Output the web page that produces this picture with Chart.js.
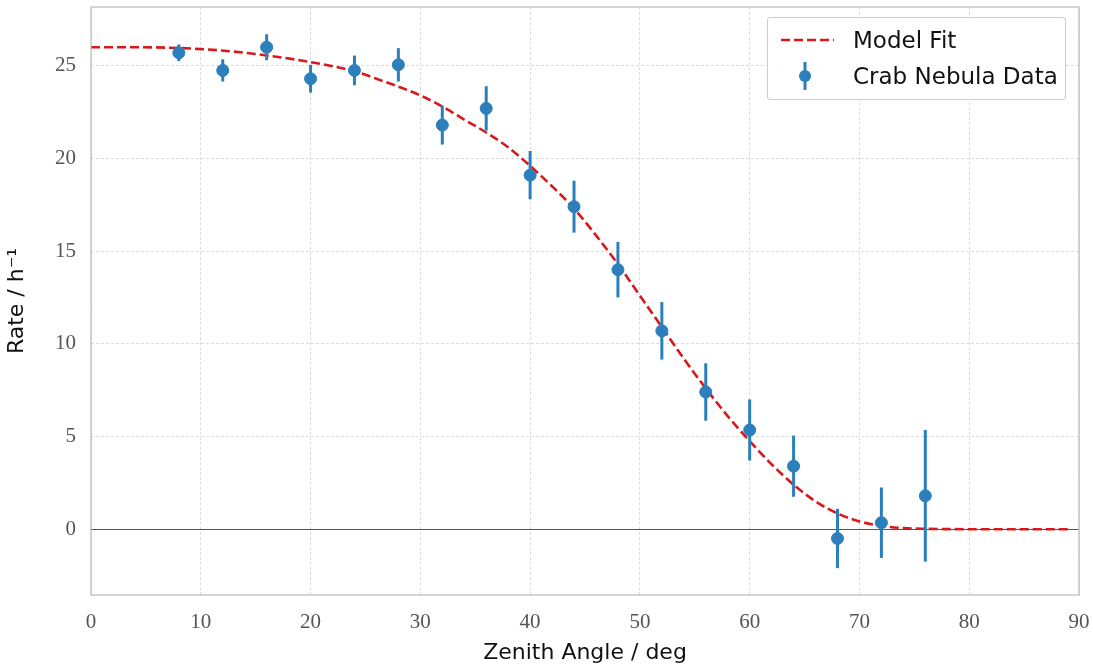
<!DOCTYPE html>
<html>
<head>
<meta charset="utf-8">
<script src="https://cdn.jsdelivr.net/npm/chart.js@4"></script>
<style>
  body { margin: 0; background: #fff; }
  #wrap { position: relative; width: 1093px; height: 670px; }
  #legend {
    position: absolute; left: 767px; top: 17px; width: 299px; height: 83px;
    border: 1px solid #ccc; border-radius: 3px; background: rgba(255,255,255,0.85);
    font-family: "DejaVu Sans", sans-serif; font-size: 23px; color: #111;
    box-sizing: border-box;
  }
  .row { position: absolute; left: 0; height: 36px; display: flex; align-items: center; }
  .row span { position: absolute; left: 85px; white-space: nowrap; }
</style>
</head>
<body>
<div id="wrap">
  <canvas id="chart" width="1093" height="670"></canvas>
  <div id="legend">
    <div class="row" style="top:4px"><svg width="80" height="36" style="position:absolute;left:10px"><line x1="3" y1="18" x2="56" y2="18" stroke="#d7191c" stroke-width="2.6" stroke-dasharray="9,4"/></svg><span>Model Fit</span></div>
    <div class="row" style="top:40px"><svg width="80" height="36" style="position:absolute;left:10px"><line x1="27" y1="4" x2="27" y2="32" stroke="#2b7fba" stroke-width="3"/><circle cx="27" cy="18" r="6" fill="#2b7fba"/></svg><span>Crab Nebula Data</span></div>
  </div>
</div>
<script>
const angles = [8, 12, 16, 20, 24, 28, 32, 36, 40, 44, 48, 52, 56, 60, 64, 68, 72, 76];
const rates = [25.7, 24.75, 26.0, 24.3, 24.75, 25.05, 21.8, 22.7, 19.1, 17.4, 14.0, 10.7, 7.4, 5.35, 3.4, -0.5, 0.35, 1.8];
const rateErrors = [0.45, 0.6, 0.7, 0.75, 0.8, 0.9, 1.05, 1.2, 1.3, 1.4, 1.5, 1.55, 1.55, 1.65, 1.65, 1.6, 1.9, 3.55];

const fitAngles = [0, 4, 10, 14, 20, 24, 26, 30, 32, 34, 36, 38, 40, 42, 44, 46, 48, 50, 52, 54, 56, 58, 60, 62, 64, 66, 68, 70, 72, 74, 76, 80, 89];
const fitRates = [26.0, 26.0, 25.9, 25.7, 25.2, 24.7, 24.3, 23.4, 22.8, 22.1, 21.4, 20.6, 19.6, 18.5, 17.3, 15.85, 14.3, 12.6, 10.9, 9.2, 7.6, 6.1, 4.75, 3.5, 2.4, 1.5, 0.85, 0.42, 0.18, 0.06, 0.02, 0.0, 0.0];

const xTicks = [0, 10, 20, 30, 40, 50, 60, 70, 80, 90];
const yTicks = [0, 5, 10, 15, 20, 25];

const blue = '#2b7fba';
const red = '#d7191c';

const plotDecor = {
  id: 'plotDecor',
  beforeDatasetsDraw(chart) {
    const { ctx, chartArea: a, scales: { y } } = chart;
    ctx.save();
    ctx.strokeStyle = '#555';
    ctx.lineWidth = 1.2;
    const y0 = Math.round(y.getPixelForValue(0)) + 0.5;
    ctx.beginPath();
    ctx.moveTo(a.left, y0);
    ctx.lineTo(a.right, y0);
    ctx.stroke();
    ctx.restore();
  },
  afterDatasetDraw(chart, args) {
    if (args.index !== 0) return;
    const { ctx, scales: { x, y } } = chart;
    ctx.save();
    ctx.strokeStyle = blue;
    ctx.lineWidth = 3;
    angles.forEach((ang, i) => {
      const px = x.getPixelForValue(ang);
      ctx.beginPath();
      ctx.moveTo(px, y.getPixelForValue(rates[i] - rateErrors[i]));
      ctx.lineTo(px, y.getPixelForValue(rates[i] + rateErrors[i]));
      ctx.stroke();
    });
    ctx.restore();
  },
  afterDraw(chart) {
    const { ctx, chartArea: a } = chart;
    ctx.save();
    ctx.strokeStyle = '#bdbdbd';
    ctx.lineWidth = 1.3;
    ctx.strokeRect(a.left, a.top, a.right - a.left, a.bottom - a.top);
    ctx.restore();
  }
};

function noPad(s) {
  s.paddingTop = 0; s.paddingBottom = 0; s.paddingLeft = 0; s.paddingRight = 0;
}

new Chart(document.getElementById('chart'), {
  type: 'scatter',
  data: {
    datasets: [{
      type: 'line',
      label: 'Model Fit',
      data: fitAngles.map((a, i) => ({ x: a, y: fitRates[i] })),
      borderColor: red,
      borderWidth: 2.6,
      borderDash: [9, 4],
      pointRadius: 0,
      fill: false,
      cubicInterpolationMode: 'monotone',
      order: 2
    }, {
      label: 'Crab Nebula Data',
      data: angles.map((a, i) => ({ x: a, y: rates[i] })),
      backgroundColor: blue,
      borderColor: blue,
      pointRadius: 6,
      pointHoverRadius: 6,
      order: 1
    }]
  },
  options: {
    responsive: false,
    animation: false,
    events: [],
    layout: { padding: { top: 5, right: 14, left: 0, bottom: 0 } },
    plugins: { legend: { display: false }, tooltip: { enabled: false } },
    scales: {
      x: {
        type: 'linear', min: 0, max: 90,
        afterBuildTicks: s => { s.ticks = xTicks.map(v => ({ value: v })); },
        afterFit: s => { s.height = 75; noPad(s); },
        grid: { color: '#d4d4d4', lineWidth: 0.8, drawTicks: false },
        border: { display: false, dash: [3, 2] },
        ticks: { padding: 15, color: '#555', font: { family: 'Liberation Serif', size: 21 } },
        title: { display: true, text: 'Zenith Angle / deg', color: '#111', padding: { top: 4 },
                 font: { family: 'DejaVu Sans', size: 22 } }
      },
      y: {
        type: 'linear', min: -3.55, max: 28.17,
        afterBuildTicks: s => { s.ticks = yTicks.map(v => ({ value: v })); },
        afterFit: s => { s.width = 91; noPad(s); },
        grid: { color: c => c.tick && c.tick.value === 0 ? 'rgba(0,0,0,0)' : '#d4d4d4', lineWidth: 0.8, drawTicks: false },
        border: { display: false, dash: [3, 2] },
        ticks: { padding: 15, color: '#555', font: { family: 'Liberation Serif', size: 21 } },
        title: { display: true, text: 'Rate / h⁻¹', color: '#111', padding: { bottom: 6 },
                 font: { family: 'DejaVu Sans', size: 22 } }
      }
    }
  },
  plugins: [plotDecor]
});
</script>
</body>
</html>
